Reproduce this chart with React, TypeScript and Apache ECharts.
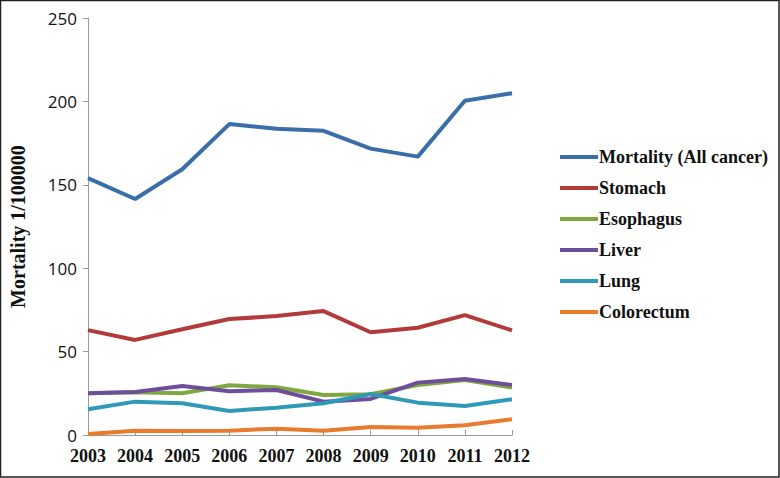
import React, { useEffect, useRef } from "react";
import * as echarts from "echarts";

const years = ["2003", "2004", "2005", "2006", "2007", "2008", "2009", "2010", "2011", "2012"];
const allCancer = [154, 141.5, 159.3, 186.4, 183.6, 182.4, 171.7, 166.9, 200.4, 204.9];
const stomach = [62.9, 57, 63.4, 69.5, 71.3, 74.3, 61.6, 64.3, 71.9, 62.7];
const esophagus = [25, 25.6, 25, 29.8, 28.6, 24, 24.4, 30, 33, 28.4];
const liver = [25, 25.8, 29.4, 26.2, 27, 20, 21.6, 31.4, 33.6, 30];
const lung = [15.4, 20, 19, 14.4, 16.4, 19, 24.6, 19.4, 17.4, 21.4];
const colorectum = [0.6, 2.6, 2.4, 2.6, 3.8, 2.6, 4.8, 4.4, 5.8, 9.4];
const yTicks = [0, 50, 100, 150, 200, 250];

const seriesDefs = [
  { name: "Mortality (All cancer)", data: allCancer, color: "#3a6ea9" },
  { name: "Stomach", data: stomach, color: "#b23a3a" },
  { name: "Esophagus", data: esophagus, color: "#7fa843" },
  { name: "Liver", data: liver, color: "#6e4e9a" },
  { name: "Lung", data: lung, color: "#2f9ab8" },
  { name: "Colorectum", data: colorectum, color: "#e97b2e" },
];

export default function App() {
  const ref = useRef<HTMLDivElement>(null);
  useEffect(() => {
    if (!ref.current) return;
    const chart = echarts.init(ref.current, undefined, { renderer: "svg" });
    chart.setOption({
      animation: false,
      backgroundColor: "#ffffff",
      grid: { left: 87, right: 268, top: 18, bottom: 43, containLabel: false },
      legend: {
        orient: "vertical",
        left: 555,
        top: 143,
        itemWidth: 38,
        itemHeight: 18,
        itemGap: 13,
        data: seriesDefs.map((s) => ({ name: s.name, icon: "path://M0,0 L38,0 L38,4 L0,4 Z" })),
        textStyle: {
          fontFamily: "Liberation Serif",
          fontWeight: "bold",
          fontSize: 18,
          lineHeight: 18,
          color: "#111",
          padding: [0, 0, 0, -4],
        },
      },
      xAxis: {
        type: "category",
        data: years,
        boundaryGap: false,
        axisLine: { lineStyle: { color: "#9a9a9a", width: 1 } },
        axisTick: { show: true, inside: true, length: 5, lineStyle: { color: "#9a9a9a" } },
        axisLabel: {
          fontFamily: "Liberation Serif",
          fontWeight: "bold",
          fontSize: 18,
          lineHeight: 18,
          color: "#111",
          margin: 12,
        },
        splitLine: { show: false },
      },
      yAxis: {
        type: "value",
        min: 0,
        max: 250,
        interval: 50,
        name: "Mortality 1/100000",
        nameLocation: "middle",
        nameGap: 60,
        nameRotate: 90,
        nameTextStyle: {
          fontFamily: "Liberation Serif",
          fontWeight: "bold",
          fontSize: 20,
          color: "#111",
        },
        axisLine: { show: true, lineStyle: { color: "#9a9a9a", width: 1 } },
        axisTick: { show: true, length: 5, lineStyle: { color: "#9a9a9a" } },
        axisLabel: {
          fontFamily: "Open Sans",
          fontSize: 17,
          lineHeight: 17,
          color: "#111",
          margin: 11,
          formatter: (v: number) => (yTicks.includes(v) ? String(v) : ""),
        },
        splitLine: { show: false },
      },
      series: seriesDefs.map((s) => ({
        name: s.name,
        type: "line",
        data: s.data,
        smooth: false,
        symbol: "none",
        lineStyle: { color: s.color, width: 4 },
        itemStyle: { color: s.color },
        z: 2,
      })),
      graphic: [
        {
          type: "rect",
          shape: { x: 0.5, y: 0.5, width: 778.5, height: 476.5 },
          style: { fill: "none", stroke: "#222", lineWidth: 1.5 },
          silent: true,
          z: 100,
        },
      ],
    });
    return () => chart.dispose();
  }, []);
  return (
    <div
      ref={ref}
      style={{ position: "fixed", left: 0, top: 0, width: 780, height: 478 }}
    />
  );
}
